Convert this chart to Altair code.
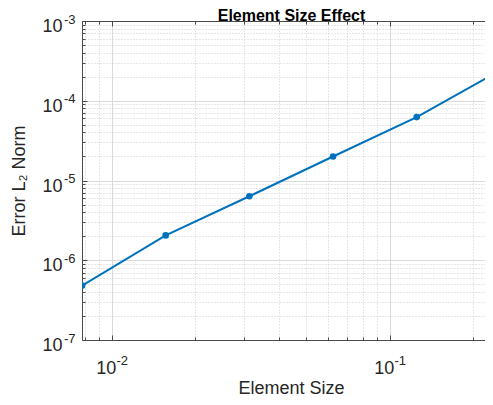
import altair as alt
import pandas as pd

# ---- data ----
sizes = [1/128, 1/64, 1/32, 1/16, 1/8, 1/4]
errors = [4.8e-7, 2.05e-6, 6.35e-6, 2.0e-5, 6.24e-5, 2.42e-4]

x_major = [0.01, 0.1]
x_major_base = ["10", "10"]
x_major_exp = ["-2", "-1"]
x_minor = [0.008, 0.009, 0.02, 0.03, 0.04, 0.05, 0.06, 0.07, 0.08, 0.09, 0.2]

y_major = [1e-7, 1e-6, 1e-5, 1e-4, 1e-3]
y_major_base = ["10", "10", "10", "10", "10"]
y_major_exp = ["-7", "-6", "-5", "-4", "-3"]
y_minor = [2e-7, 3e-7, 4e-7, 5e-7, 6e-7, 7e-7, 8e-7, 9e-7,
           2e-6, 3e-6, 4e-6, 5e-6, 6e-6, 7e-6, 8e-6, 9e-6,
           2e-5, 3e-5, 4e-5, 5e-5, 6e-5, 7e-5, 8e-5, 9e-5,
           2e-4, 3e-4, 4e-4, 5e-4, 6e-4, 7e-4, 8e-4, 9e-4]

title_text = "Element Size Effect"
x_title = "Element Size"
y_title = "Error L₂ Norm"

# visible part of the axes (the right end of the original figure is cropped)
x_domain = [1/128, 0.22003]
y_domain = [1e-7, 1e-3]

df = pd.DataFrame({"size": sizes, "err": errors})

FONT = "Liberation Sans"
TXT = "#262626"
AX = "#4a4a4a"
BASE_FS = 18
EXP_FS = 13
W, H = 403, 319
CENTER_X = 209  # centre of the full (uncropped) axes box


def label_expr(values, labels):
    expr = "''"
    for v, l in reversed(list(zip(values, labels))):
        expr = f"abs(datum.value - {v!r}) < {v * 1e-6!r} ? '{l}' : ({expr})"
    return expr


x_scale = alt.Scale(type="log", domain=x_domain, nice=False)
y_scale = alt.Scale(type="log", domain=y_domain, nice=False)

base = alt.Chart(df)


def layer(mark, xaxis, yaxis, xtitle=None, ytitle=None):
    return mark.encode(
        x=alt.X("size:Q", scale=x_scale, axis=xaxis, title=xtitle),
        y=alt.Y("err:Q", scale=y_scale, axis=yaxis, title=ytitle),
    )


def tick_axis(orient, values, length):
    return alt.Axis(orient=orient, values=values, offset=-length, tickSize=length,
                    ticks=True, labels=False, domain=False, grid=False,
                    tickColor=AX, tickWidth=1, title=None)


# major grid + base "10" labels + axis titles + frame lines
major = layer(
    base.mark_point(opacity=0),
    alt.Axis(orient="bottom", values=x_major, labelExpr=label_expr(x_major, x_major_base),
             grid=True, gridColor="#dadada", gridWidth=1, ticks=False,
             domain=True, domainColor=AX, domainWidth=1,
             labelPadding=19, labelOffset=-6, labelFontSize=BASE_FS, labelFont=FONT,
             labelColor=TXT, labelBaseline="top",
             titleFontSize=BASE_FS, titleFont=FONT, titleFontWeight="normal", titleColor=TXT,
             titleX=CENTER_X, titleY=53, titleAlign="center", titleBaseline="alphabetic"),
    alt.Axis(orient="left", values=y_major, labelExpr=label_expr(y_major, y_major_base),
             grid=True, gridColor="#dadada", gridWidth=1, ticks=False,
             domain=True, domainColor=AX, domainWidth=1,
             labelPadding=20, labelOffset=5.5, labelFontSize=BASE_FS, labelFont=FONT,
             labelColor=TXT, labelBaseline="middle",
             titleFontSize=BASE_FS, titleFont=FONT, titleFontWeight="normal", titleColor=TXT,
             titlePadding=13),
    xtitle=x_title, ytitle=y_title,
)

# exponent labels (superscripts)
exps = layer(
    base.mark_point(opacity=0),
    alt.Axis(orient="bottom", values=x_major, labelExpr=label_expr(x_major, x_major_exp),
             grid=False, ticks=False, domain=False,
             labelPadding=14, labelOffset=10, labelFontSize=EXP_FS, labelFont=FONT,
             labelColor=TXT, labelBaseline="top", title=None),
    alt.Axis(orient="left", values=y_major, labelExpr=label_expr(y_major, y_major_exp),
             grid=False, ticks=False, domain=False,
             labelPadding=7, labelOffset=-2, labelFontSize=EXP_FS, labelFont=FONT,
             labelColor=TXT, labelBaseline="middle", title=None),
)

# minor dotted grid
minor = layer(
    base.mark_point(opacity=0),
    alt.Axis(orient="bottom", values=x_minor, grid=True, gridColor="#cfcfcf", gridDash=[1, 2],
             gridWidth=1, labels=False, ticks=False, domain=False, title=None),
    alt.Axis(orient="left", values=y_minor, grid=True, gridColor="#cfcfcf", gridDash=[1, 2],
             gridWidth=1, labels=False, ticks=False, domain=False, title=None),
)

# chart title carried by the top axis (exact placement) + top frame line
title_layer = layer(
    base.mark_point(opacity=0),
    alt.Axis(orient="top", values=x_major, labels=False, ticks=False, grid=False,
             domain=True, domainColor=AX, domainWidth=1,
             titleFontSize=16, titleFont=FONT, titleFontWeight="bold", titleColor="#000000",
             titleX=CENTER_X, titleY=-0.5, titleAlign="center", titleBaseline="alphabetic",
             titleAngle=0),
    None,
    xtitle=title_text,
)

# inward ticks
t_major_bl = layer(base.mark_point(opacity=0), tick_axis("bottom", x_major, 5), tick_axis("left", y_major, 5))
t_minor_bl = layer(base.mark_point(opacity=0), tick_axis("bottom", x_minor, 3), tick_axis("left", y_minor, 3))
t_major_top = layer(base.mark_point(opacity=0), tick_axis("top", x_major, 5), None)
t_minor_top = layer(base.mark_point(opacity=0), tick_axis("top", x_minor, 3), None)

line = layer(base.mark_line(color="#0072BD", strokeWidth=2, clip=True), None, None)
pts = layer(base.mark_point(filled=True, color="#0072BD", size=44, opacity=1, clip=True), None, None)

chart = alt.layer(
    minor, major, exps, title_layer, t_major_bl, t_minor_bl, t_major_top, t_minor_top, line, pts
).resolve_axis(x="independent", y="independent").properties(
    width=W,
    height=H,
    padding={"left": 74, "top": 13, "right": 0, "bottom": 57},
    autosize=alt.AutoSizeParams(type="none"),
).configure_view(stroke=None)

chart.save("out.html", embed_options={"renderer": "svg", "actions": False})
